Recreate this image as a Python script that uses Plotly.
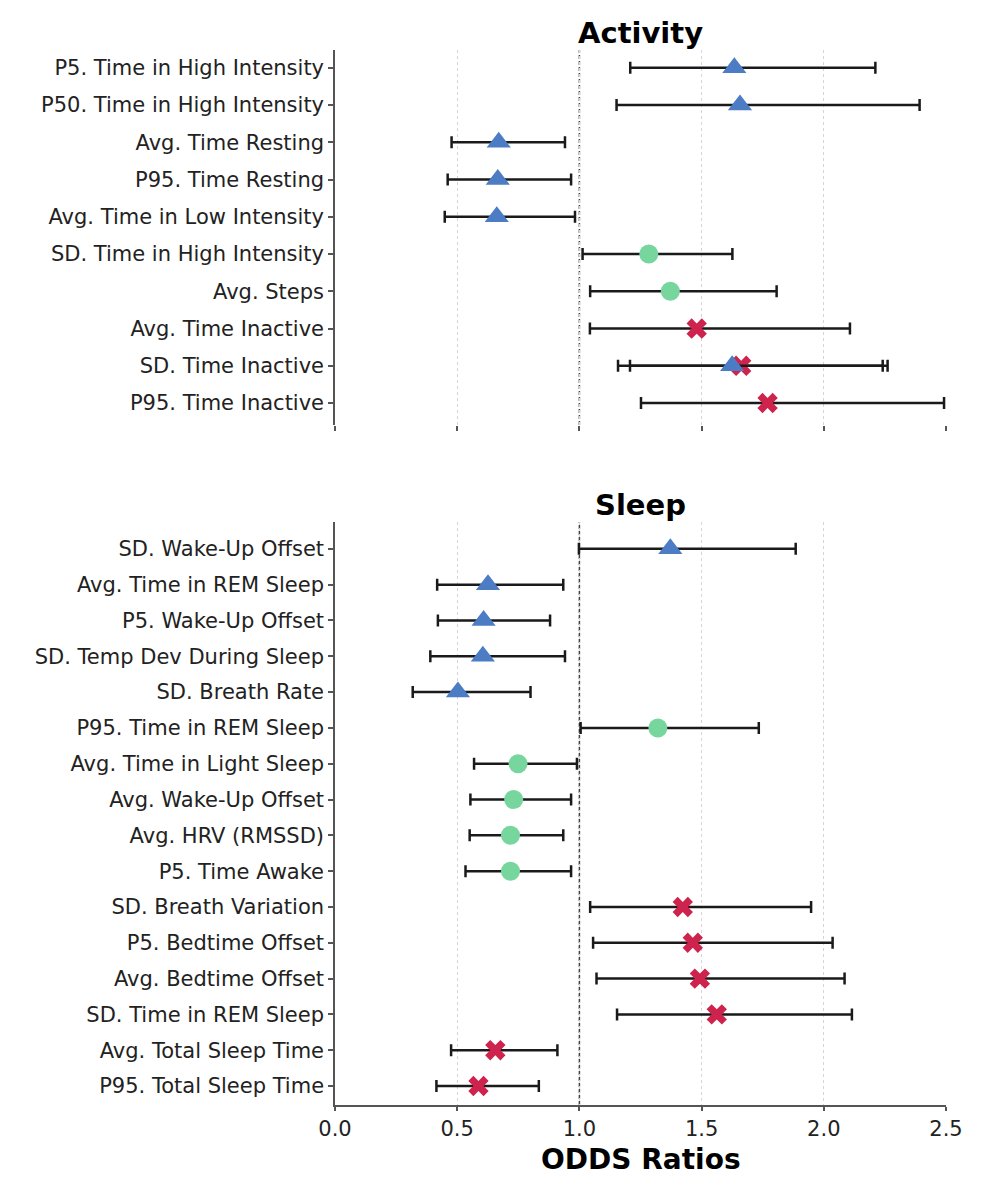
import plotly.graph_objects as go

# Activity panel (top to bottom)
activity_labels = [
    "P5. Time in High Intensity", "P50. Time in High Intensity", "Avg. Time Resting",
    "P95. Time Resting", "Avg. Time in Low Intensity", "SD. Time in High Intensity",
    "Avg. Steps", "Avg. Time Inactive", "SD. Time Inactive", "SD. Time Inactive",
    "P95. Time Inactive",
]
activity_or = [1.634, 1.657, 0.670, 0.666, 0.662, 1.284, 1.372, 1.480, 1.625, 1.662, 1.770]
activity_lo = [1.208, 1.152, 0.477, 0.461, 0.449, 1.013, 1.044, 1.043, 1.158, 1.207, 1.252]
activity_hi = [2.211, 2.392, 0.941, 0.966, 0.982, 1.626, 1.807, 2.107, 2.241, 2.261, 2.492]
activity_grp = ["blue", "blue", "blue", "blue", "blue", "green", "green", "red", "blue", "red", "red"]

# Sleep panel (top to bottom)
sleep_labels = [
    "SD. Wake-Up Offset", "Avg. Time in REM Sleep", "P5. Wake-Up Offset",
    "SD. Temp Dev During Sleep", "SD. Breath Rate", "P95. Time in REM Sleep",
    "Avg. Time in Light Sleep", "Avg. Wake-Up Offset", "Avg. HRV (RMSSD)",
    "P5. Time Awake", "SD. Breath Variation", "P5. Bedtime Offset",
    "Avg. Bedtime Offset", "SD. Time in REM Sleep", "Avg. Total Sleep Time",
    "P95. Total Sleep Time",
]
sleep_or = [1.372, 0.626, 0.608, 0.605, 0.503, 1.321, 0.749, 0.731, 0.718, 0.718,
            1.423, 1.464, 1.493, 1.562, 0.656, 0.587]
sleep_lo = [0.998, 0.418, 0.421, 0.390, 0.318, 1.005, 0.569, 0.554, 0.551, 0.534,
            1.044, 1.056, 1.070, 1.154, 0.475, 0.415]
sleep_hi = [1.885, 0.934, 0.880, 0.941, 0.800, 1.734, 0.990, 0.966, 0.934, 0.966,
            1.948, 2.036, 2.085, 2.115, 0.910, 0.834]
sleep_grp = ["blue"] * 5 + ["green"] * 5 + ["red"] * 6

x_ticks = [0.0, 0.5, 1.0, 1.5, 2.0, 2.5]

# marker style per group
styles = {
    "blue": dict(symbol="triangle-up", color="#4C7CC4", size=21),
    "green": dict(symbol="circle", color="#77D69D", size=19),
    "red": dict(symbol="x", color="#CD234C", size=18),
}
draw_order = ["red", "green", "blue"]  # blue triangles end up on top

W, H = 993, 1193
OFF = 8  # page body margin, positions below are in page pixels
FONT = "DejaVu Sans"
TXT = "#222222"


def py(page_y):
    # page pixel row -> paper fraction
    return 1 - (page_y - OFF) / H


fig = go.Figure()


def add_panel(labels, ors, los, his, grps, xa, ya):
    for g in draw_order:
        idx = [i for i, gg in enumerate(grps) if gg == g]
        if not idx:
            continue
        st = styles[g]
        fig.add_trace(go.Scatter(
            x=[ors[i] for i in idx],
            y=[labels[i] for i in idx],
            mode="markers",
            marker=dict(symbol=st["symbol"], color=st["color"], size=st["size"],
                        line=dict(width=0)),
            error_x=dict(type="data", symmetric=False,
                         array=[his[i] - ors[i] for i in idx],
                         arrayminus=[ors[i] - los[i] for i in idx],
                         color="#1a1a1a", thickness=2.5, width=6),
            xaxis=xa, yaxis=ya, showlegend=False, cliponaxis=False,
        ))


add_panel(activity_labels, activity_or, activity_lo, activity_hi, activity_grp, "x", "y")
add_panel(sleep_labels, sleep_or, sleep_lo, sleep_hi, sleep_grp, "x2", "y2")

# unique category order (duplicates removed)
act_cats = list(dict.fromkeys(activity_labels))
slp_cats = list(dict.fromkeys(sleep_labels))

xcommon = dict(range=[0, 2.5], tickvals=x_ticks, showgrid=True, griddash="3px,3px",
               gridcolor="#d4d4d4", gridwidth=1, zeroline=False, ticks="outside",
               ticklen=5, tickwidth=1.5, tickcolor="#555555")
ycommon = dict(type="category", showgrid=False, zeroline=False, showline=True,
               linecolor="#555555", linewidth=1.5, ticks="outside", ticklen=5,
               tickwidth=1.5, tickcolor="#555555", automargin=False,
               tickfont=dict(family=FONT, size=21, color=TXT))

fig.update_layout(
    width=W, height=H,
    margin=dict(l=335 - OFF, r=W - (946 - OFF), t=0, b=0),
    plot_bgcolor="white", paper_bgcolor="white",
    font=dict(family=FONT, size=21, color=TXT),
    xaxis=dict(xcommon, anchor="y", showline=False, showticklabels=False),
    yaxis=dict(ycommon, domain=[py(425), py(50)], anchor="x",
               categoryarray=act_cats, categoryorder="array", range=[9.59, -0.48]),
    xaxis2=dict(xcommon, anchor="y2", showline=True, linecolor="#555555", linewidth=1.5,
                showticklabels=True, tickformat=".1f", ticklen=4,
                tickfont=dict(family=FONT, size=21, color=TXT)),
    yaxis2=dict(ycommon, domain=[py(1105), py(522)], anchor="x2",
                categoryarray=slp_cats, categoryorder="array", range=[15.53, -0.75]),
)

# reference line at OR = 1
for xr, yr in [("x", "y domain"), ("x2", "y2 domain")]:
    fig.add_shape(type="line", x0=1, x1=1, y0=0, y1=1, xref=xr, yref=yr,
                  line=dict(color="#444444", width=1.5, dash="4px,2px"), layer="below")

# panel titles and x-axis title
fig.add_annotation(text="<b>Activity</b>", x=0.5, xref="x domain", y=py(33), yref="paper",
                   yanchor="middle", showarrow=False,
                   font=dict(family=FONT, size=29, color="black"))
fig.add_annotation(text="<b>Sleep</b>", x=0.5, xref="x2 domain", y=py(505), yref="paper",
                   yanchor="middle", showarrow=False,
                   font=dict(family=FONT, size=29, color="black"))
fig.add_annotation(text="<b>ODDS Ratios</b>", x=0.5, xref="x2 domain", y=py(1159),
                   yref="paper", yanchor="middle", showarrow=False,
                   font=dict(family=FONT, size=28, color="black"))

fig.write_html("out.html")
